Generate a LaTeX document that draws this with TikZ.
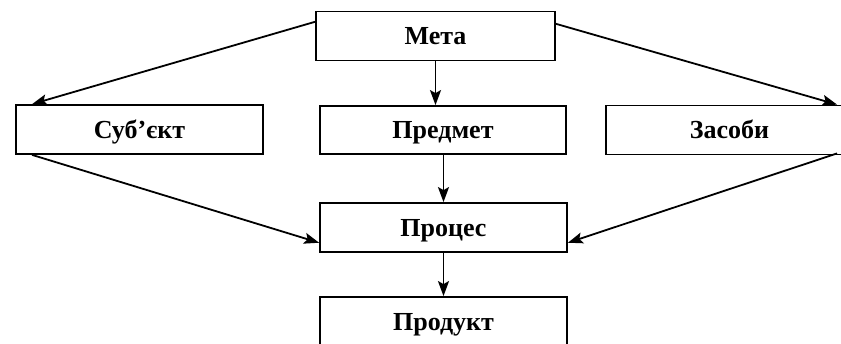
\documentclass[tikz,border=0pt]{standalone}
\usepackage{fontspec}
\setmainfont{Liberation Serif}
\usetikzlibrary{arrows.meta, positioning, calc}

\begin{document}
\begin{tikzpicture}[x=1pt, y=-1pt,
    box/.style={draw, line width=1.8pt, inner sep=0pt, minimum width=247pt,
                minimum height=49pt, text height=17pt, text depth=0pt,
                font=\fontsize{26}{30}\selectfont\bfseries},
    arr/.style={line width=1.8pt, -{Stealth[length=15pt, width=11pt, inset=3pt]}}]
    \useasboundingbox (0,0) rectangle (841,343);

    % Top goal and the three elements
    \node[box, minimum width=239pt] (meta) at (435.5,36) {Мета};
    \node[box] (subj) at (139.5,129.5) {Суб’єкт};
    \node[box, minimum width=246pt, minimum height=48pt] (predmet) at (443,130) {Предмет};
    \node[box] (zasoby) at (729.5,130) {Засоби};

    % Process and its product
    \node[box] (proces) at (443.5,227.5) {Процес};
    \node[box] (produkt) at (443.5,321.5) {Продукт};

    % Arrows from the goal
    \draw[arr] ($(meta.north west)!0.22!(meta.south west)$) -- ($(subj.north west)+(17,0)$);
    \draw[arr] ($(meta.north east)!0.26!(meta.south east)$) -- ($(zasoby.north west)+(232,0)$);
    \draw[arr] (meta.south) -- (meta.south |- predmet.north);

    % Arrows into the process
    \draw[arr] ($(subj.south west)+(17,0)$) -- ($(proces.north west)!0.8!(proces.south west)$);
    \draw[arr] ($(zasoby.south west)+(232,-2)$) -- ($(proces.north east)!0.8!(proces.south east)$);
    \draw[arr] (proces.north |- predmet.south) -- (proces.north);
    \draw[arr] (proces.south) -- (produkt.north);
\end{tikzpicture}
\end{document}
